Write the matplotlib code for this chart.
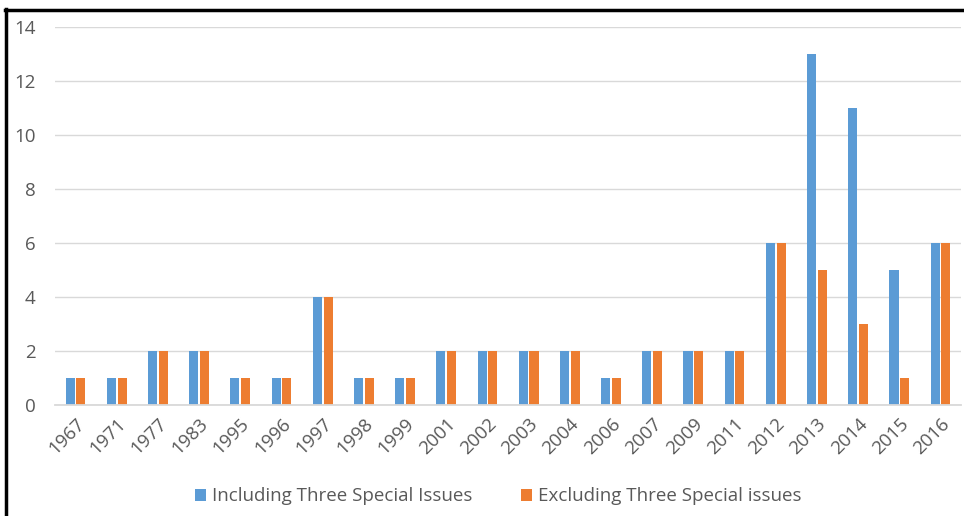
import matplotlib.pyplot as plt
import numpy as np

years = ['1967', '1971', '1977', '1983', '1995', '1996', '1997', '1998', '1999', '2001',
         '2002', '2003', '2004', '2006', '2007', '2009', '2011', '2012', '2013', '2014',
         '2015', '2016']
including = [1, 1, 2, 2, 1, 1, 4, 1, 1, 2, 2, 2, 2, 1, 2, 2, 2, 6, 13, 11, 5, 6]
excluding = [1, 1, 2, 2, 1, 1, 4, 1, 1, 2, 2, 2, 2, 1, 2, 2, 2, 6, 5, 3, 1, 6]

blue = '#5b9bd5'
orange = '#ed7d31'
grey = '#595959'

plt.rcParams['font.family'] = ['Open Sans', 'DejaVu Sans']

fig = plt.figure(figsize=(9.64, 5.16), dpi=100)
ax = fig.add_axes([0.057, 0.215, 0.940, 0.733])

x = np.arange(len(years))
w = 0.22
ax.bar(x - w / 2 - 0.02, including, w, color=blue, label='Including Three Special Issues')
ax.bar(x + w / 2 + 0.02, excluding, w, color=orange, label='Excluding Three Special issues')

ax.set_xlim(-0.5, len(years) - 0.5)
ax.set_ylim(0, 14)
ax.set_yticks(range(0, 15, 2))
ax.grid(axis='y', color='#d9d9d9', linewidth=1)
ax.set_axisbelow(True)
for s in ['top', 'right', 'left']:
    ax.spines[s].set_visible(False)
ax.spines['bottom'].set_color('#d9d9d9')
ax.spines['bottom'].set_linewidth(1.3)

ax.set_xticks(x)
ax.set_xticklabels(years, rotation=45, ha='right', rotation_mode='anchor')
ax.tick_params(axis='x', length=0, pad=7, labelsize=13.5, labelcolor=grey)
ax.tick_params(axis='y', length=0, pad=14, labelsize=13.5, labelcolor=grey)

fig.legend(loc='lower center', bbox_to_anchor=(0.517, -0.012), ncol=2, frameon=False,
           fontsize=13.5, labelcolor=grey, handlelength=0.6, handleheight=0.6,
           handletextpad=0.3, columnspacing=2.6)

# frame edge of the original chart box
fig.add_artist(plt.Line2D([0.006, 0.006], [0, 0.982], color='black', lw=2.5, transform=fig.transFigure))
fig.add_artist(plt.Line2D([0.005, 1], [0.981, 0.981], color='black', lw=2.5, transform=fig.transFigure))

fig.savefig('out.png', dpi=100)
